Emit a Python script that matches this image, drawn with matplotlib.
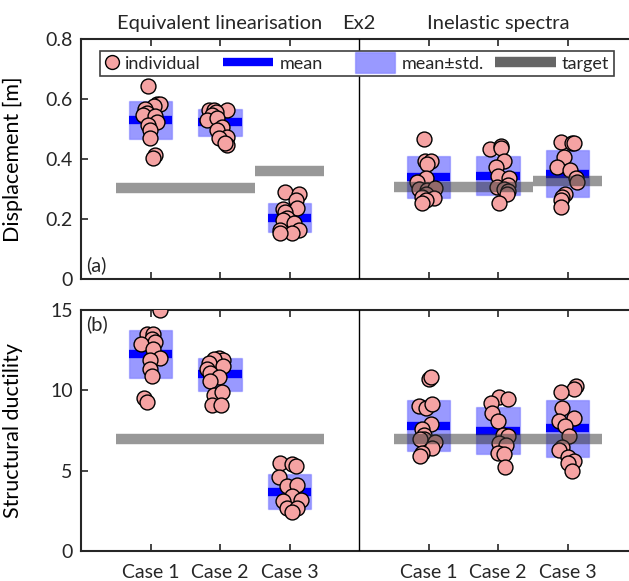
import numpy as np
import matplotlib
matplotlib.use("Agg")
import matplotlib.pyplot as plt
from matplotlib.lines import Line2D
from matplotlib.patches import Patch, Rectangle
from matplotlib.legend_handler import HandlerLine2D, HandlerPatch
from matplotlib.transforms import blended_transform_factory

plt.rcParams['font.family'] = ['Lato', 'DejaVu Sans']
plt.rcParams['font.size'] = 14
plt.rcParams['text.color'] = '#262626'

case_labels = ['Case 1', 'Case 2', 'Case 3', 'Case 1', 'Case 2', 'Case 3']
x_pos = [1, 2, 3, 5, 6, 7]
group_titles = ['Equivalent linearisation', 'Ex2', 'Inelastic spectra']
title_x = [2, 4, 6]

# (a) displacement [m]: individual results and their horizontal jitter
disp_pts = [
    [0.645, 0.585, 0.583, 0.578, 0.568, 0.553, 0.548, 0.543, 0.524, 0.513, 0.497, 0.470, 0.413, 0.402],
    [0.565, 0.563, 0.565, 0.556, 0.546, 0.530, 0.537, 0.508, 0.497, 0.472, 0.470, 0.447, 0.452],
    [0.291, 0.283, 0.263, 0.235, 0.238, 0.222, 0.205, 0.198, 0.187, 0.165, 0.163, 0.155, 0.153],
    [0.466, 0.395, 0.392, 0.385, 0.337, 0.322, 0.300, 0.297, 0.302, 0.282, 0.275, 0.270, 0.262, 0.253],
    [0.432, 0.443, 0.438, 0.392, 0.373, 0.342, 0.337, 0.308, 0.312, 0.300, 0.292, 0.283, 0.253],
    [0.458, 0.452, 0.455, 0.408, 0.375, 0.363, 0.337, 0.325, 0.285, 0.275, 0.263, 0.240],
]
disp_jit = [
    [-0.03, 0.09, 0.14, 0.05, -0.08, -0.05, -0.11, 0.07, 0.09, -0.03, -0.01, -0.01, 0.07, 0.04],
    [-0.16, -0.09, 0.10, -0.06, -0.11, -0.18, -0.04, 0.03, -0.04, 0.10, -0.02, 0.10, 0.07],
    [-0.06, 0.13, 0.09, -0.10, 0.11, -0.06, -0.03, -0.10, 0.06, -0.13, 0.13, 0.04, -0.13],
    [-0.07, -0.05, 0.03, -0.02, -0.04, -0.16, -0.14, -0.02, 0.10, -0.04, -0.09, 0.08, -0.04, -0.09],
    [-0.12, 0.05, 0.04, 0.09, -0.03, 0.00, 0.16, -0.02, 0.14, 0.09, 0.14, 0.13, 0.02],
    [-0.10, 0.07, 0.09, -0.05, -0.15, 0.04, 0.12, 0.13, -0.03, -0.08, -0.10, -0.10],
]
disp_mean = [0.530, 0.522, 0.204, 0.339, 0.345, 0.351]
disp_std = [0.063, 0.045, 0.048, 0.070, 0.064, 0.078]
disp_target = [0.305, 0.305, 0.360, 0.307, 0.307, 0.327]

# (b) structural ductility
duct_pts = [
    [15.0, 13.5, 13.5, 13.2, 13.0, 12.9, 12.6, 12.0, 11.9, 11.3, 10.9, 9.5, 9.3],
    [12.0, 11.9, 11.95, 11.7, 11.3, 11.5, 11.1, 10.8, 10.6, 9.7, 9.9, 9.1, 9.1],
    [5.5, 5.4, 5.3, 4.6, 4.05, 4.1, 3.4, 3.1, 3.15, 2.7, 2.7, 2.4],
    [10.7, 10.8, 9.0, 8.9, 9.15, 7.9, 7.6, 7.2, 7.0, 6.95, 6.8, 6.4, 6.1, 5.9],
    [9.6, 9.45, 9.2, 8.6, 8.1, 7.2, 7.15, 6.7, 6.6, 6.1, 6.05, 5.2],
    [10.25, 10.1, 9.9, 8.9, 8.3, 8.1, 7.8, 7.15, 6.5, 6.3, 5.85, 5.6, 5.5, 4.95],
]
duct_jit = [
    [0.13, -0.05, 0.04, 0.02, 0.06, -0.13, 0.04, 0.14, -0.01, -0.01, 0.02, -0.10, -0.05],
    [-0.02, 0.05, -0.09, -0.16, -0.18, 0.05, -0.14, -0.02, -0.14, -0.09, 0.03, -0.11, 0.01],
    [-0.13, 0.04, 0.09, -0.15, -0.03, 0.11, 0.04, -0.10, 0.16, -0.03, 0.11, 0.04],
    [0.00, 0.04, -0.14, -0.04, 0.05, 0.03, -0.09, -0.06, -0.07, -0.12, 0.10, 0.05, -0.09, -0.12],
    [0.02, 0.14, -0.10, -0.08, 0.00, 0.07, 0.14, 0.02, 0.12, 0.00, 0.09, 0.10],
    [0.12, 0.09, -0.10, -0.08, 0.09, -0.12, -0.03, 0.02, -0.08, -0.12, 0.00, 0.09, 0.00, 0.06],
]
duct_mean = [12.27, 11.0, 3.69, 7.81, 7.5, 7.65]
duct_std = [1.50, 1.04, 1.075, 1.60, 1.46, 1.77]
duct_target = [7.0, 7.0, 7.0, 7.0, 7.0, 7.0]

pink = '#F5A3A3'
box_fc = (0, 0, 1, 0.4)
box_ec = (0, 0, 1, 0.2)
tgt_col = '#333333'
frame = '#262626'


def draw_panel(ax, pts, jit, mean, std, target):
    for i, x in enumerate(x_pos):
        ax.add_patch(Rectangle((x - 0.31, mean[i] - std[i]), 0.62, 2 * std[i],
                               fc=box_fc, ec=box_ec, lw=1, zorder=1))
        ax.plot([x - 0.31, x + 0.31], [mean[i], mean[i]], color='blue', lw=6,
                solid_capstyle='butt', zorder=2)
        ax.scatter(x + np.array(jit[i]), pts[i], s=115, fc=pink, ec='k', lw=1, zorder=3)
        ax.plot([x - 0.5, x + 0.5], [target[i], target[i]], color=tgt_col, alpha=0.5,
                lw=7.5, solid_capstyle='butt', zorder=4)
    ax.axvline(4, color='k', lw=1, zorder=5)
    ax.set_xlim(0, 8)
    ax.set_xticks(x_pos)
    ax.tick_params(axis='x', direction='in', top=True, bottom=True, length=5, width=1.2,
                   colors=frame, pad=9)
    ax.tick_params(axis='y', direction='in', left=True, right=False, length=5, width=1.2,
                   colors=frame, pad=6)
    ax.tick_params(labelcolor='#262626', labelsize=14)
    for s in ax.spines.values():
        s.set_linewidth(1.5)
        s.set_color(frame)


# legend handles that stretch to the left of a short handle box
class LeftLine(HandlerLine2D):
    def __init__(self, length, **kw):
        super().__init__(**kw)
        self.length = length

    def create_artists(self, legend, orig_handle, xdescent, ydescent, width, height,
                       fontsize, trans):
        arts = super().create_artists(legend, orig_handle, xdescent, ydescent, width,
                                      height, fontsize, trans)
        for a in arts:
            n = len(a.get_xdata())
            a.set_xdata(np.linspace(-xdescent + width - self.length, -xdescent + width, n))
        return arts


def left_patch(legend, orig_handle, xdescent, ydescent, width, height, fontsize):
    L, H = 29, 15
    yc = -ydescent + height / 2
    return Rectangle((-xdescent + width - L, yc - H / 2), L, H)


fig = plt.figure(figsize=(6.29, 5.81), dpi=100)
ax1 = fig.add_axes([81 / 629, (581 - 279) / 581, 556 / 629, 240 / 581])
ax2 = fig.add_axes([81 / 629, (581 - 551) / 581, 556 / 629, 241 / 581])

draw_panel(ax1, disp_pts, disp_jit, disp_mean, disp_std, disp_target)
ax1.set_ylim(0, 0.8)
ax1.set_yticks([0, 0.2, 0.4, 0.6, 0.8])
ax1.set_yticklabels(['0', '0.2', '0.4', '0.6', '0.8'])
ax1.set_xticklabels([])
ax1.set_ylabel('Displacement [m]', fontsize=15.5)
ax1.text(0.01, 0.02, '(a)', transform=ax1.transAxes, ha='left', va='bottom', fontsize=14.5)

trans = blended_transform_factory(ax1.transData, ax1.transAxes)
for t, x in zip(group_titles, title_x):
    ax1.text(x, 1.03, t, transform=trans, ha='center', va='bottom', fontsize=14.5)

draw_panel(ax2, duct_pts, duct_jit, duct_mean, duct_std, duct_target)
ax2.set_ylim(0, 15)
ax2.set_yticks([0, 5, 10, 15])
ax2.set_xticklabels(case_labels)
ax2.set_ylabel('Structural ductility', fontsize=15.5)
ax2.text(0.01, 0.98, '(b)', transform=ax2.transAxes, ha='left', va='top', fontsize=14.5)

for a in (ax1, ax2):
    a.yaxis.set_label_coords(-0.104, 0.5)

h_ind = Line2D([], [], marker='o', ls='none', mfc=pink, mec='k', ms=10)
h_mean = Line2D([], [], color='blue', lw=6, solid_capstyle='butt')
h_std = Patch(fc=box_fc, ec=box_ec)
h_tgt = Line2D([], [], color='#666666', lw=7.5, solid_capstyle='butt')
leg = ax1.legend([h_ind, h_mean, h_std, h_tgt], ['individual', 'mean', 'mean±std.', 'target'],
                 handler_map={h_mean: LeftLine(36), h_tgt: LeftLine(44),
                              h_std: HandlerPatch(patch_func=left_patch)},
                 loc='upper left', bbox_to_anchor=(0.034, 0.95), ncol=4,
                 fancybox=False, edgecolor='#404040', framealpha=1,
                 borderaxespad=0, handlelength=0.8, handletextpad=0.35,
                 columnspacing=3.2, borderpad=0.25, fontsize=13)
leg.get_frame().set_linewidth(1.2)
leg.set_zorder(10)

fig.savefig('out.png', dpi=100)
